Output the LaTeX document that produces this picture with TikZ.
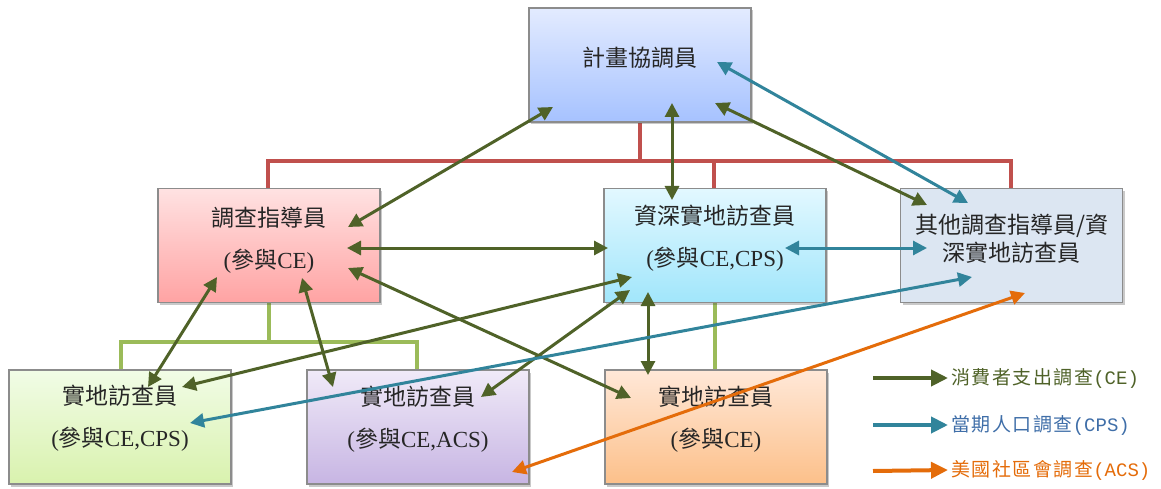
\documentclass[tikz,border=0pt]{standalone}
\usepackage{fontspec}
\setmainfont{Liberation Serif}
\newfontfamily\cjk{Noto Sans CJK TC}
\newfontfamily\legcjk[LetterSpace=8]{Noto Sans CJK TC}
\newfontfamily\legmono{Liberation Mono}
\usetikzlibrary{arrows.meta,shadows}
\definecolor{boxborder}{HTML}{8C8C8C}
\definecolor{redtree}{HTML}{C0504D}
\definecolor{greentree}{HTML}{9BBB59}
\definecolor{ceg}{HTML}{4F6228}
\definecolor{cpsb}{HTML}{31849B}
\definecolor{acso}{HTML}{E46C0A}
\definecolor{cpstext}{HTML}{3F6EA8}
\definecolor{txt}{HTML}{262626}
\tikzset{
  box/.style={draw=boxborder, line width=1.2pt, minimum width=222pt, minimum height=114pt, inner sep=0pt,
    drop shadow={shadow xshift=2pt, shadow yshift=-2.5pt, opacity=0.3, fill=black!70}},
  lbl/.style={align=center, inner sep=0pt, text=txt, font=\fontsize{23}{42}\selectfont},
  lbltight/.style={align=center, inner sep=0pt, text=txt, font=\fontsize{23}{28}\selectfont\cjk},
  redline/.style={draw=redtree, line width=4.5pt},
  greenline/.style={draw=greentree, line width=4.5pt},
  dbl/.style={line width=3pt, {Triangle[length=14pt,width=14pt]}-{Triangle[length=14pt,width=14pt]}},
  cearrow/.style={dbl, draw=ceg, fill=ceg},
  cpsarrow/.style={dbl, draw=cpsb, fill=cpsb},
  acsarrow/.style={dbl, draw=acso, fill=acso},
  legarrow/.style={line width=4pt, -{Triangle[length=17pt,width=16pt]}},
  legtext/.style={anchor=west, inner sep=0pt}
}
\begin{document}
\begin{tikzpicture}[x=1pt,y=-1pt]
\useasboundingbox (0,0) rectangle (1161,489);

% box positions
\coordinate (ptop) at (640,65);
\coordinate (psup) at (269,245.5);
\coordinate (psen) at (715,245.5);
\coordinate (poth) at (1011.5,245.5);
\coordinate (pb1) at (120,427);
\coordinate (pb2) at (418,427);
\coordinate (pb3) at (716,427);

% trees (behind boxes)
\draw[redline] (640,122) -- (640,161);
\draw[redline] (268,200) -- (268,161) -- (1011,161) -- (1011,200);
\draw[redline] (714,161) -- (714,200);
\draw[greenline] (269,290) -- (269,342);
\draw[greenline] (121,380) -- (121,342) -- (417,342) -- (417,380);
\draw[greenline] (715,290) -- (715,380);

% boxes
\node[box, top color={rgb,255:red,227;green,235;blue,255}, bottom color={rgb,255:red,166;green,194;blue,255}] (top) at (ptop) {};
\node[box, top color={rgb,255:red,255;green,226;blue,226}, bottom color={rgb,255:red,255;green,163;blue,163}] (sup) at (psup) {};
\node[box, top color={rgb,255:red,226;green,248;blue,255}, bottom color={rgb,255:red,161;green,230;blue,251}] (sen) at (psen) {};
\node[box, fill={rgb,255:red,220;green,230;blue,242}] (oth) at (poth) {};
\node[box, top color={rgb,255:red,241;green,252;blue,230}, bottom color={rgb,255:red,217;green,242;blue,174}] (b1) at (pb1) {};
\node[box, top color={rgb,255:red,240;green,234;blue,248}, bottom color={rgb,255:red,199;green,181;blue,227}] (b2) at (pb2) {};
\node[box, top color={rgb,255:red,255;green,232;blue,216}, bottom color={rgb,255:red,252;green,192;blue,138}] (b3) at (pb3) {};

% labels
\node[lbl] (ttop) at ([yshift=7pt]top.center) {\cjk 計畫協調員};
\node[lbl] (tsup) at ([yshift=5pt]sup.center) {{\cjk 調查指導員}\\({\cjk 參與}CE)};
\node[lbl] (tsen) at ([yshift=7pt]sen.center) {{\cjk 資深實地訪查員}\\({\cjk 參與}CE,CPS)};
\node[lbltight] (toth) at ([yshift=7pt]oth.center) {其他調查指導員/資\\深實地訪查員};
\node[lbl] (tb1) at ([yshift=9pt]b1.center) {{\cjk 實地訪查員}\\({\cjk 參與}CE,CPS)};
\node[lbl] (tb2) at ([yshift=8pt]b2.center) {{\cjk 實地訪查員}\\({\cjk 參與}CE,ACS)};
\node[lbl] (tb3) at ([yshift=8pt]b3.center) {{\cjk 實地訪查員}\\({\cjk 參與}CE)};

% connector end points
\coordinate (a1s) at (348,227);  \coordinate (a1e) at (553,107);
\coordinate (a2s) at (672,103);  \coordinate (a2e) at (672,200);
\coordinate (a3s) at (715,103);  \coordinate (a3e) at (927,205);
\coordinate (a4s) at (347,248);  \coordinate (a4e) at (608,248);
\coordinate (a5s) at (348,268);  \coordinate (a5e) at (631,398);
\coordinate (a6s) at (217,277);  \coordinate (a6e) at (148,387);
\coordinate (a7s) at (302,278);  \coordinate (a7e) at (333,387);
\coordinate (a8s) at (632,277);  \coordinate (a8e) at (182,387);
\coordinate (a9s) at (630,290);  \coordinate (a9e) at (481,397);
\coordinate (a10s) at (648,292); \coordinate (a10e) at (648,375);
\coordinate (b1s) at (785,248);  \coordinate (b1e) at (927,248);
\coordinate (b2s) at (717,62);   \coordinate (b2e) at (968,203);
\coordinate (b3s) at (190,423);  \coordinate (b3e) at (972,277);
\coordinate (o1s) at (512,472);  \coordinate (o1e) at (1025,293);

% CE connectors
\draw[cearrow] (a1s) -- (a1e);
\draw[cearrow] (a2s) -- (a2e);
\draw[cearrow] (a3s) -- (a3e);
\draw[cearrow] (a4s) -- (a4e);
\draw[cearrow] (a5s) -- (a5e);
\draw[cearrow] (a6s) -- (a6e);
\draw[cearrow] (a7s) -- (a7e);
\draw[cearrow] (a8s) -- (a8e);
\draw[cearrow] (a9s) -- (a9e);
\draw[cearrow] (a10s) -- (a10e);
% CPS connectors
\draw[cpsarrow] (b1s) -- (b1e);
\draw[cpsarrow] (b2s) -- (b2e);
\draw[cpsarrow] (b3s) -- (b3e);
% ACS connector
\draw[acsarrow] (o1s) -- (o1e);

% legend
\node[legtext, text=ceg] (l1) at (951,378) {\fontsize{19}{19}\selectfont\legcjk 消費者支出調查\legmono(CE)};
\node[legtext, text=cpstext] (l2) at (951,425) {\fontsize{19}{19}\selectfont\legcjk 當期人口調查\legmono(CPS)};
\node[legtext, text=acso] (l3) at (951,470) {\fontsize{19}{19}\selectfont\legcjk 美國社區會調查\legmono(ACS)};
\coordinate (l1s) at (873,378);
\coordinate (l2s) at (873,425);
\coordinate (l3s) at (873,471);
\draw[legarrow, draw=ceg, fill=ceg] (l1s) -- ([xshift=-3pt]l1.west);
\draw[legarrow, draw=cpsb, fill=cpsb] (l2s) -- ([xshift=-3pt]l2.west);
\draw[legarrow, draw=acso, fill=acso] (l3s) -- ([xshift=-3pt]l3.west);
\end{tikzpicture}
\end{document}
